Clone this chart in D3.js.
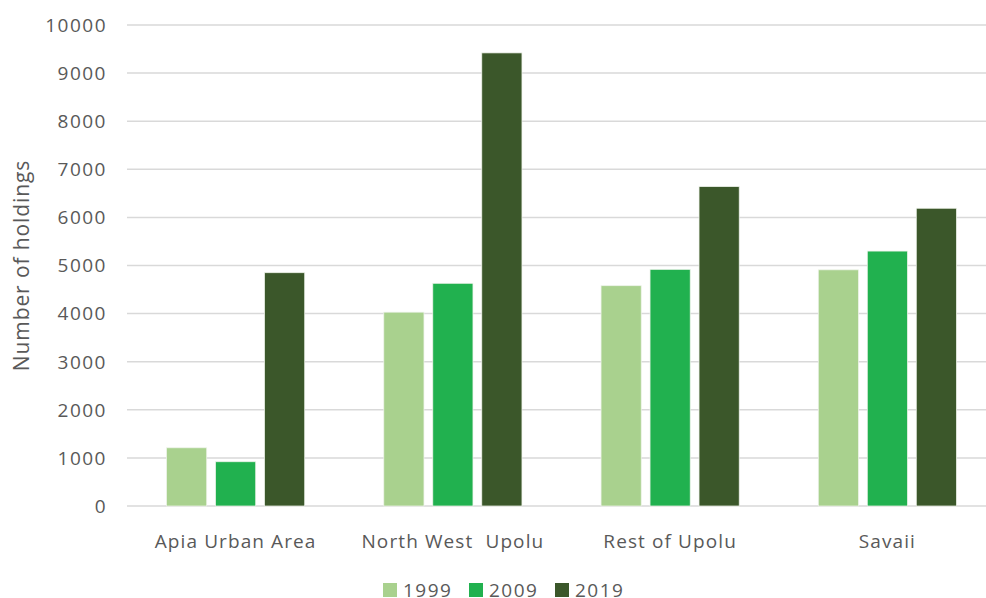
<!DOCTYPE html>
<html>
<head>
<meta charset="utf-8">
<script src="https://cdn.jsdelivr.net/npm/d3@7"></script>
<style>
  body { margin: 0; background: #fff; }
  text { font-family: "Open Sans", "Noto Sans", sans-serif; fill: #595959; }
</style>
</head>
<body>
<div id="chart"></div>
<script>
// chart data
let categories = ["Apia Urban Area", "North West  Upolu", "Rest of Upolu", "Savaii"];
let series = ["1999", "2009", "2019"];
let values1999 = [1210, 4030, 4580, 4910];
let values2009 = [920, 4630, 4920, 5300];
let values2019 = [4850, 9420, 6640, 6190];
let yTicks = [0, 1000, 2000, 3000, 4000, 5000, 6000, 7000, 8000, 9000, 10000];
let colors = ["#a9d18e", "#21b14f", "#3b572a"];

let width = 986, height = 598;
let margin = {top: 25, right: -10, bottom: 92, left: 127};

let svg = d3.select("#chart").append("svg")
    .attr("width", width)
    .attr("height", height);

let x0 = d3.scaleBand()
    .domain(categories)
    .range([margin.left, width - margin.right])
    .paddingInner(0.364)
    .paddingOuter(0.182);

let x1 = d3.scaleBand()
    .domain(series)
    .range([0, x0.bandwidth()])
    .paddingInner(0.18);

let y = d3.scaleLinear()
    .domain([0, 10000])
    .range([height - margin.bottom, margin.top]);

let color = d3.scaleOrdinal().domain(series).range(colors);

//Gridlines
svg.append("g").selectAll("line")
    .data(yTicks)
    .enter()
    .append("line")
    .attr("x1", margin.left)
    .attr("x2", width)
    .attr("y1", d => y(d))
    .attr("y2", d => y(d))
    .attr("stroke", "#d9d9d9")
    .attr("stroke-width", 1.5);

//Y tick labels
svg.append("g").selectAll("text")
    .data(yTicks)
    .enter()
    .append("text")
    .attr("x", 107)
    .attr("y", d => y(d))
    .attr("dy", "0.36em")
    .attr("text-anchor", "end")
    .attr("font-size", 19)
    .attr("letter-spacing", 1.5)
    .text(d => d);

//Bars
let rows = categories.map((c, i) => ({
    category: c,
    values: [values1999[i], values2009[i], values2019[i]]
}));

let groups = svg.append("g").selectAll("g")
    .data(rows)
    .enter()
    .append("g")
    .attr("transform", d => "translate(" + x0(d.category) + ",0)");

groups.selectAll("rect")
    .data(d => d.values.map((v, j) => ({key: series[j], value: v})))
    .enter()
    .append("rect")
    .attr("x", d => x1(d.key))
    .attr("y", d => y(d.value))
    .attr("width", x1.bandwidth())
    .attr("height", d => y(0) - y(d.value))
    .attr("fill", d => color(d.key))
    .attr("stroke", "#eef3ea")
    .attr("stroke-width", 0.75);

//Category labels
svg.append("g").selectAll("text")
    .data(categories)
    .enter()
    .append("text")
    .attr("x", d => x0(d) + x0.bandwidth() / 2)
    .attr("y", 548)
    .attr("text-anchor", "middle")
    .attr("font-size", 19)
    .attr("letter-spacing", 1.1)
    .attr("xml:space", "preserve")
    .style("white-space", "pre")
    .text(d => d);

//Axis title
svg.append("text")
    .attr("transform", "translate(29," + (height - margin.bottom + margin.top) / 2 + ") rotate(-90)")
    .attr("text-anchor", "middle")
    .attr("font-size", 21)
    .attr("letter-spacing", 0.9)
    .text("Number of holdings");

//Legend
let legend = svg.append("g").selectAll("g")
    .data(series)
    .enter()
    .append("g")
    .attr("transform", (d, i) => "translate(" + (383 + i * 86) + ",583)");

legend.append("rect")
    .attr("width", 14)
    .attr("height", 14)
    .attr("fill", d => color(d));

legend.append("text")
    .attr("x", 20)
    .attr("y", 7)
    .attr("dy", "0.36em")
    .attr("font-size", 19)
    .attr("letter-spacing", 1.5)
    .text(d => d);
</script>
</body>
</html>
